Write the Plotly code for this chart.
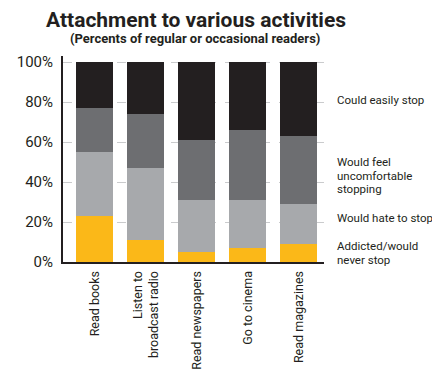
import plotly.graph_objects as go

categories = ["Read books", "Listen to<br>broadcast radio", "Read newspapers", "Go to cinema", "Read magazines"]
addicted = [23, 11, 5, 7, 9]
hate_to_stop = [32, 36, 26, 24, 20]
uncomfortable = [22, 27, 30, 35, 34]
easily_stop = [23, 26, 39, 34, 37]

series_names = ["Addicted/would never stop", "Would hate to stop", "Would feel uncomfortable stopping", "Could easily stop"]
series_values = [addicted, hate_to_stop, uncomfortable, easily_stop]
series_colors = ["#FBB818", "#A7A9AC", "#6D6E71", "#231F20"]

y_tick_vals = [0, 20, 40, 60, 80, 100]
y_tick_text = ["0%", "20%", "40%", "60%", "80%", "100%"]

# right-hand series labels, one entry per text line
label_lines = ["Could easily stop", "Would feel", "uncomfortable", "stopping",
               "Would hate to stop", "Addicted/would", "never stop"]
label_line_y = [81, 50, 43, 36.5, 22, 8, 1]

TITLE = "Attachment to various activities"
SUBTITLE = "(Percents of regular or occasional readers)"

FONT = "Roboto, sans-serif"
DARK = "#231F20"

fig = go.Figure()
for name, vals, col in zip(series_names, series_values, series_colors):
    fig.add_trace(go.Bar(x=categories, y=vals, name=name, marker=dict(color=col, line=dict(width=0))))

# the page body has an 8px margin, so the figure is drawn 8px smaller and margins shifted
fig.update_layout(
    barmode="stack",
    bargap=0.275,
    width=432, height=365,
    margin=dict(l=55, r=116, t=48, b=111, autoexpand=False),
    paper_bgcolor="white", plot_bgcolor="white",
    showlegend=False,
    font=dict(family=FONT, color=DARK, size=14),
)
fig.update_xaxes(
    range=[-0.62, 4.5], showline=True, linecolor=DARK, linewidth=2,
    tickangle=-90, ticks="", tickfont=dict(size=12.5, color=DARK), showgrid=False,
    automargin=False, ticklabelstandoff=2,
)
fig.update_yaxes(
    range=[0, 103], tickmode="array", tickvals=y_tick_vals, ticktext=y_tick_text,
    showline=True, linecolor=DARK, linewidth=2, ticks="",
    showgrid=True, gridcolor="#CACBCD", griddash="dash", gridwidth=1,
    zeroline=False, tickfont=dict(size=15, color=DARK), automargin=False,
    ticklabelstandoff=5,
)
fig.add_annotation(text="<b>" + TITLE + "</b>", x=0.508, xref="paper", xanchor="center",
                   y=1.177, yref="paper", yanchor="middle", showarrow=False,
                   font=dict(family=FONT, size=21, color=DARK))
fig.add_annotation(text="<b>" + SUBTITLE + "</b>", x=0.504, xref="paper", xanchor="center",
                   y=1.087, yref="paper", yanchor="middle", showarrow=False,
                   font=dict(family=FONT, size=13, color=DARK))
for t, yv in zip(label_lines, label_line_y):
    fig.add_annotation(text=t, x=1.043, xref="paper", xanchor="left", y=yv, yref="y",
                       yanchor="middle", showarrow=False, align="left",
                       font=dict(family=FONT, size=11.5, color=DARK))

fig.write_html("out.html")
